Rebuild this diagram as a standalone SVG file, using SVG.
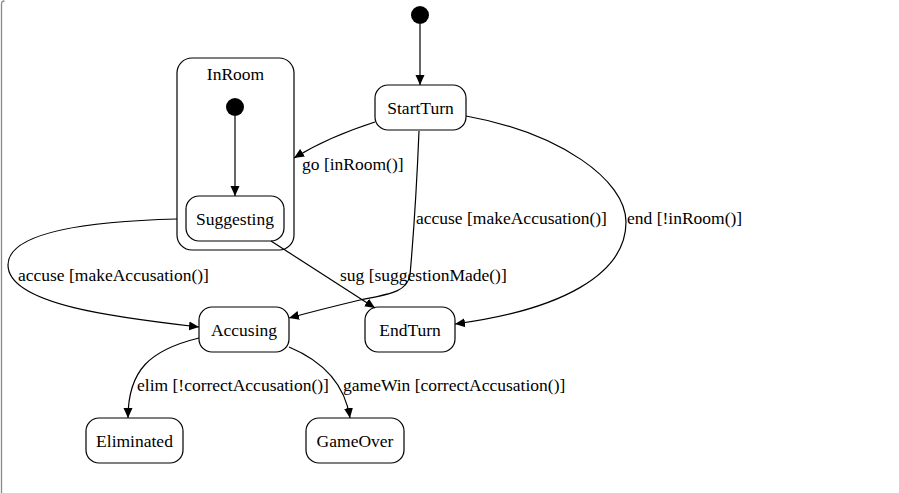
<svg xmlns="http://www.w3.org/2000/svg" width="899" height="493" viewBox="0 0 899 493">
<defs>
<marker id="ah" viewBox="0 0 10 10" refX="10" refY="5" markerWidth="10" markerHeight="10" markerUnits="userSpaceOnUse" orient="auto">
<path d="M0,0.5 L10,5 L0,9.5 Z" fill="#000"/>
</marker>
<style>
.st{fill:#fff;stroke:#000;stroke-width:1.2}
.cl{fill:none;stroke:#000;stroke-width:1.2}
.init{fill:#000}
.e{fill:none;stroke:#000;stroke-width:1.2;marker-end:url(#ah)}
text{font-family:"Liberation Serif","Times New Roman",serif;font-size:17.5px;fill:#000}
.c{text-anchor:middle}
</style>
</defs>
<rect width="899" height="493" fill="#fff"/>
<path d="M1.5,493 V4 Q1.5,1 4.5,1" fill="none" stroke="#888" stroke-width="1.3"/>
<g id="InRoom">
<rect class="cl" x="177" y="58" width="117" height="192" rx="15"/>
<text class="c" x="235.5" y="80">InRoom</text>
</g>
<g id="init_top"><circle class="init" cx="420" cy="15" r="9"/></g>
<g id="init_inroom"><circle class="init" cx="235" cy="107" r="9"/></g>
<g id="StartTurn"><rect class="st" x="375" y="85" width="91" height="45" rx="13"/><text class="c" x="420.5" y="113.5">StartTurn</text></g>
<g id="Suggesting"><rect class="st" x="186" y="196" width="98" height="45" rx="13"/><text class="c" x="235" y="224.5">Suggesting</text></g>
<g id="Accusing"><rect class="st" x="199" y="307" width="90" height="45" rx="13"/><text class="c" x="244" y="335.5">Accusing</text></g>
<g id="EndTurn"><rect class="st" x="365" y="307" width="90" height="45" rx="13"/><text class="c" x="410" y="335.5">EndTurn</text></g>
<g id="Eliminated"><rect class="st" x="86" y="418" width="97" height="45" rx="13"/><text class="c" x="134.5" y="446.5">Eliminated</text></g>
<g id="GameOver"><rect class="st" x="306" y="418" width="98" height="45" rx="13"/><text class="c" x="355" y="446.5">GameOver</text></g>
<g id="connectors">
<path class="e" d="M420,24 V85"/>
<path class="e" d="M235,116 V196"/>
<path class="e" d="M375,122 C350,130 320,142 294,158"/>
<path class="e" d="M419,131 C417,180 414,230 410,275 C407,292 390,294 360,300 C335,306 315,311 289,318"/>
<path class="e" d="M466,116 C560,133 626,180 626,222 C626,275 560,310 455,324"/>
<path class="e" d="M271,241 L375,308"/>
<path class="e" d="M177,219 C100,221 8,230 8,265 C8,305 120,318 199,327"/>
<path class="e" d="M199,338 C150,350 128,370 128,418"/>
<path class="e" d="M289,347 C325,362 345,385 350,418"/>
<text x="302" y="169.5">go [inRoom()]</text>
<text x="416" y="224">accuse [makeAccusation()]</text>
<text x="627" y="224">end [!inRoom()]</text>
<text x="340" y="281">sug [suggestionMade()]</text>
<text x="18" y="281">accuse [makeAccusation()]</text>
<text x="137" y="391">elim [!correctAccusation()]</text>
<text x="343" y="391">gameWin [correctAccusation()]</text>
</g>
</svg>
